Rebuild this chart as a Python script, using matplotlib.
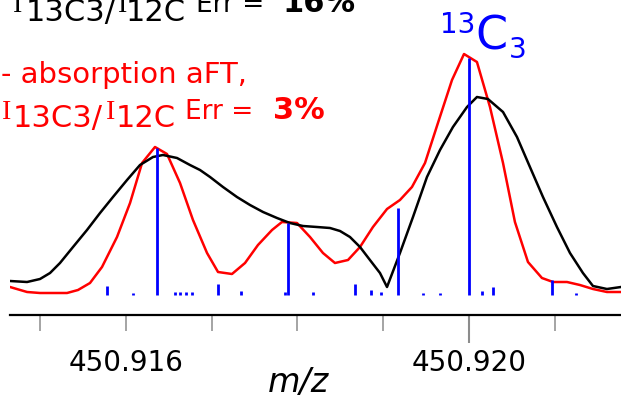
import numpy as np
import matplotlib
matplotlib.use('Agg')
import matplotlib.pyplot as plt

# absorption aFT spectrum (red)
mz_red = [450.914647, 450.914846, 450.914997, 450.915312, 450.915440, 450.915580,
          450.915720, 450.915895, 450.916047, 450.916187, 450.916338, 450.916478,
          450.916630, 450.916781, 450.916945, 450.917073, 450.917236, 450.917388,
          450.917539, 450.917703, 450.917819, 450.917994, 450.918146, 450.918297,
          450.918437, 450.918589, 450.918729, 450.918880, 450.919044, 450.919195,
          450.919335, 450.919487, 450.919638, 450.919802, 450.919942, 450.920093,
          450.920245, 450.920397, 450.920536, 450.920688, 450.920851, 450.920980,
          450.921143, 450.921294, 450.921446, 450.921609, 450.921773]
int_red = [8, 3, 2, 2, 5, 12, 28, 58, 92, 132, 148, 141, 112, 75, 42, 23, 21, 32,
           50, 65, 73, 72, 58, 42, 32, 35, 48, 68, 86, 95, 108, 132, 172, 215, 241,
           233, 188, 132, 73, 33, 17, 13, 13, 10, 6, 3, 3]

# magnitude FT spectrum (black)
mz_black = [450.914647, 450.914846, 450.914997, 450.915114, 450.915230, 450.915382,
            450.915545, 450.915697, 450.915848, 450.916012, 450.916163, 450.916315,
            450.916431, 450.916595, 450.916746, 450.916863, 450.916980, 450.917131,
            450.917294, 450.917446, 450.917598, 450.917761, 450.917912, 450.918064,
            450.918227, 450.918379, 450.918496, 450.918612, 450.918729, 450.918845,
            450.918962, 450.919044, 450.919195, 450.919347, 450.919510, 450.919662,
            450.919813, 450.919977, 450.920093, 450.920221, 450.920397, 450.920560,
            450.920711, 450.920863, 450.921026, 450.921178, 450.921329, 450.921446,
            450.921609, 450.921773]
int_black = [14, 13, 16, 22, 32, 48, 65, 82, 98, 115, 130, 138, 140, 137, 130, 125,
             118, 108, 98, 90, 83, 77, 72, 69, 68, 67, 64, 58, 48, 35, 22, 8, 42, 78,
             118, 145, 168, 188, 198, 196, 183, 158, 128, 98, 68, 42, 22, 9, 6, 8]

# theoretical isotopic fine structure (blue sticks)
stick_mz = [450.915778, 450.916082, 450.916362, 450.916571, 450.916630, 450.916700,
            450.916770, 450.917073, 450.917341, 450.917854, 450.917889, 450.918181,
            450.918671, 450.918857, 450.918974, 450.919172, 450.919464, 450.919662,
            450.920000, 450.920152, 450.920280, 450.920968, 450.921248]
stick_int = [9, 2, 147, 3, 3, 3, 3, 11, 4, 3, 72, 3, 11, 5, 3, 87, 2, 2, 237, 4, 8, 15, 2]

tick_pos = [450.915, 450.916, 450.917, 450.918, 450.919, 450.920, 450.921]
tick_lab = ['', '450.916', '', '', '', '450.920', '']

W, H = 621, 399
fig = plt.figure(figsize=(W / 100, H / 100), dpi=100)
ax = fig.add_axes([10 / W, 84 / H, 611 / W, 315 / H])

ax.plot(mz_red, int_red, color='#ff0000', lw=1.8)
ax.plot(mz_black, int_black, color='black', lw=1.8)
ax.vlines(stick_mz, 0, stick_int, color='#0000ff', lw=2)

ax.set_xlim(mz_red[0], mz_red[-1])
ax.set_ylim(-20, 295)
for s in ['left', 'right', 'top']:
    ax.spines[s].set_visible(False)
ax.spines['bottom'].set_linewidth(1.6)
ax.set_yticks([])
ax.set_xticks(tick_pos)
ax.set_xticklabels(tick_lab)
ax.tick_params(axis='x', direction='out', length=11.5, width=1.1, color='#8c8c8c',
               labelsize=20, pad=13)
big = ax.xaxis.get_major_ticks()[5]
big.tick1line.set_color('black')
big.tick1line.set_markersize(20)
big.tick1line.set_markeredgewidth(1.5)

fig.text(298 / W, 1 - 392 / H, 'm/z', fontsize=24, style='italic', ha='center', va='baseline')


def put(px, py, s, size, color, weight='normal', family='DejaVu Sans'):
    fig.text(px / W, 1 - py / H, s, fontsize=size, color=color, fontweight=weight,
             family=family, ha='left', va='baseline')


# black legend line (cut at top)
put(13, 12, 'I', 20, 'black', family='Liberation Serif')
put(26, 21, '13C3/', 22, 'black')
put(118, 12, 'I', 20, 'black', family='Liberation Serif')
put(126, 21, '12C', 22, 'black')
put(196, 12, 'Err =', 19, 'black')
put(283, 12, '16%', 22, 'black', 'bold')

# red legend
put(2, 119, 'I', 20, '#ff0000', family='Liberation Serif')
put(1, 83, '- absorption aFT,', 21, '#ff0000')
put(13, 127, '13C3/', 22, '#ff0000')
put(106, 119, 'I', 20, '#ff0000', family='Liberation Serif')
put(116, 127, '12C', 22, '#ff0000')
put(185, 119, 'Err =', 19, '#ff0000')
put(273, 119, '3%', 22, '#ff0000', 'bold')

# peak label
put(440, 33, '13', 20, '#0000ff')
put(475, 50, 'C', 33, '#0000ff')
put(509, 58, '3', 20, '#0000ff')

fig.savefig('out.png', dpi=100)
